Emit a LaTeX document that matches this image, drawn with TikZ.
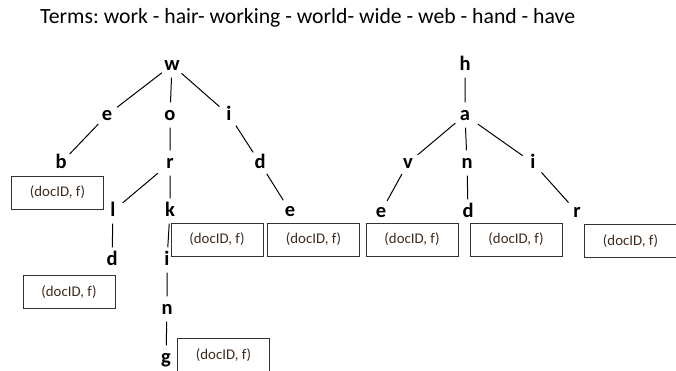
\documentclass[tikz,border=0pt]{standalone}
\usepackage{fontspec}
\setmainfont{Carlito}
\usepackage{color}
\definecolor{docbrown}{RGB}{62,42,28}
\definecolor{boxgray}{gray}{.2}
\frenchspacing
\newcommand{\entry}{(docID, f)}
\newcommand{\widthposting}{92pt}
\newcommand{\heightposting}{33pt}
\tikzset{
    letter/.style={circle, anchor=base, inner sep=0pt, minimum size=25pt, text height=10pt, text depth=0pt,
        font=\fontsize{20.5}{23}\selectfont\bfseries},
    posting/.style={draw=boxgray, rectangle, line width=1pt, minimum width=\widthposting,
        minimum height=\heightposting, text=docbrown, font=\fontsize{14.8}{17}\selectfont},
    edge/.style={line width=1pt},
    slant/.style={edge, shorten <=3pt}
}

\begin{document}
\begin{tikzpicture}[x=1pt, y=-1pt]
    \useasboundingbox (0,0) rectangle (676,370);

    \node[anchor=base west, inner sep=0pt, font=\fontsize{21.7}{24}\selectfont] (terms) at (40,23)
        {Terms: work - hair- working - world- wide - web - hand - have};

    \path
        node[letter] (w) at (172,70) {w}
        node[letter] (e1) at (107,120) {e}
        node[letter] (o) at (170,120) {o}
        node[letter] (i1) at (229,120) {i}
        node[letter] (b) at (61,168) {b}
        node[letter] (r1) at (170,168) {r}
        node[letter] (d1) at (260,168) {d}
        node[letter] (l) at (113,216) {l}
        node[letter] (k) at (170,216) {k}
        node[letter] (e2) at (290,216) {e}
        node[letter] (d2) at (112,265) {d}
        node[letter] (i2) at (167,265) {i}
        node[letter] (n1) at (167,314) {n}
        node[letter] (g) at (166,363) {g};

    \path
        node[letter] (h) at (465,70) {h}
        node[letter] (a) at (465,120) {a}
        node[letter] (v) at (408,168) {v}
        node[letter] (n2) at (467,168) {n}
        node[letter] (i3) at (533,168) {i}
        node[letter] (e3) at (381,217) {e}
        node[letter] (d3) at (468,217) {d}
        node[letter] (r2) at (577,217) {r};

    \draw[slant] (w) -- (e1) (w) -- (i1) (e1) -- (b) (r1) -- (l);
    \draw[edge] (w) -- (o) (o) -- (r1) (i1) -- (d1)
        (r1) -- (k) (d1) -- (e2)
        (l) -- (d2) (k) -- (i2) (i2) -- (n1) (n1) -- (g);
    \draw[slant] (a) -- (v) (a) -- (i3);
    \draw[edge] (h) -- (a) (a) -- (n2)
        (v) -- (e3) (n2) -- (d3) (i3) -- (r2);

    \path
        node[posting] (pb) at (57.5,192.5) {\entry}
        node[posting] (pk) at (217,239.5) {\entry}
        node[posting] (pe2) at (313.5,239.5) {\entry}
        node[posting] (pd2) at (69,292) {\entry}
        node[posting, anchor=north] (pg) at (223.5,338) {\entry}
        node[posting] (pe3) at (412,239.5) {\entry}
        node[posting] (pd3) at (516,239.5) {\entry}
        node[posting] (pr2) at (630.5,241) {\entry};
\end{tikzpicture}
\end{document}
